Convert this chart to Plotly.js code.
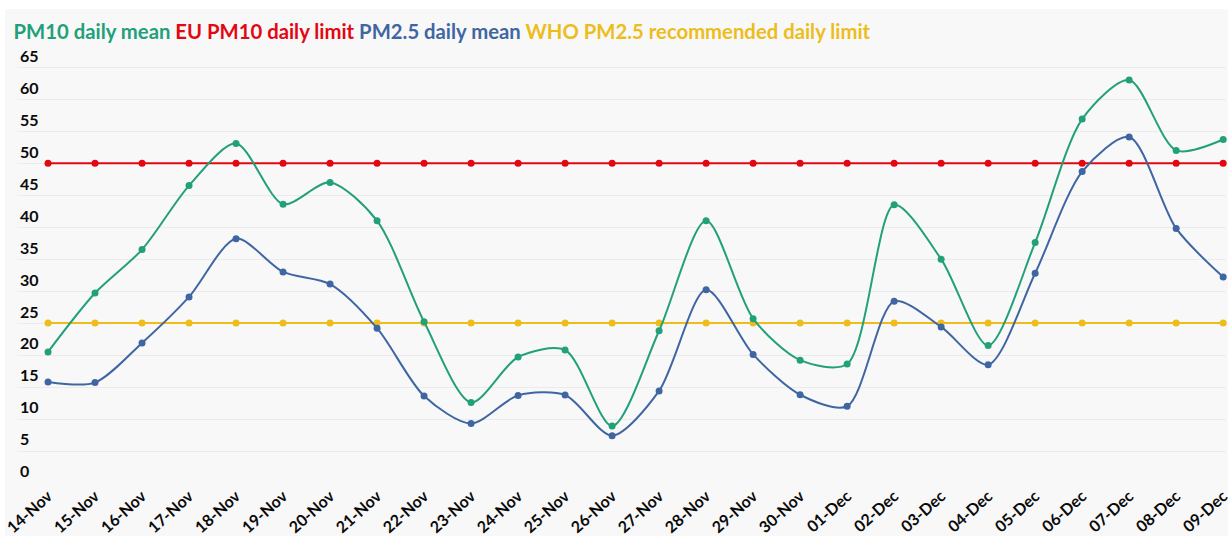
<!DOCTYPE html>
<html>
<head>
<meta charset="utf-8">
<script src="https://cdn.plot.ly/plotly-3.0.1.min.js"></script>
<style>
  html, body { margin: 0; padding: 0; background: #ffffff; }
  #chart { position: absolute; left: 5px; top: 9px; width: 1223px; height: 527px; }
</style>
</head>
<body>
<div id="chart"></div>
<script>
// === Datos ===
const days = ["14-Nov", "15-Nov", "16-Nov", "17-Nov", "18-Nov", "19-Nov", "20-Nov", "21-Nov",
  "22-Nov", "23-Nov", "24-Nov", "25-Nov", "26-Nov", "27-Nov", "28-Nov", "29-Nov", "30-Nov",
  "01-Dec", "02-Dec", "03-Dec", "04-Dec", "05-Dec", "06-Dec", "07-Dec", "08-Dec", "09-Dec"];

const pm10 = [20.5, 29.7, 36.5, 46.5, 53.1, 43.6, 47.0, 41.0, 25.2, 12.6, 19.7, 20.8, 8.9,
  23.8, 41.0, 25.7, 19.2, 18.6, 43.5, 35.0, 21.5, 37.6, 56.9, 63.0, 52.0, 53.7];

const pm25 = [15.8, 15.7, 21.9, 29.1, 38.2, 33.0, 31.1, 24.2, 13.6, 9.3, 13.7, 13.75, 7.4,
  14.4, 30.2, 20.1, 13.8, 12.0, 28.4, 24.4, 18.5, 32.8, 48.7, 54.1, 39.8, 32.2];

const euLimit = days.map(() => 50);
const whoLimit = days.map(() => 25);

const yTicks = [0, 5, 10, 15, 20, 25, 30, 35, 40, 45, 50, 55, 60, 65];

// === Colores ===
const cGreen = "#22a07a";
const cRed = "#e30613";
const cBlue = "#3f66a3";
const cYellow = "#edbd1c";

function serie(y, color, name) {
  return {
    x: days,
    y,
    name,
    mode: "lines+markers",
    line: { color, width: 2, shape: "spline", smoothing: 0.8 },
    marker: { color, size: 7 },
    cliponaxis: false
  };
}

const traces = [
  serie(whoLimit, cYellow, "WHO PM2.5 recommended daily limit"),
  serie(euLimit, cRed, "EU PM10 daily limit"),
  serie(pm25, cBlue, "PM2.5 daily mean"),
  serie(pm10, cGreen, "PM10 daily mean")
];

const title =
  `<span style="color:${cGreen}">PM10 daily mean</span> ` +
  `<span style="color:${cRed}">EU PM10 daily limit</span> ` +
  `<span style="color:${cBlue}">PM2.5 daily mean</span> ` +
  `<span style="color:${cYellow}">WHO PM2.5 recommended daily limit</span>`;

const tickFont = { size: 16, family: "Lato, sans-serif", weight: "bold", color: "#0a0a0a" };

const layout = {
  width: 1223,
  height: 527,
  paper_bgcolor: "#f8f8f8",
  plot_bgcolor: "#f8f8f8",
  showlegend: false,
  font: { family: "Lato, 'Open Sans', sans-serif", color: "#111111" },
  margin: { l: 12, r: 2, t: 41, b: 53 },
  title: {
    text: `<b>${title}</b>`,
    font: { size: 20.3, family: "Lato, sans-serif" },
    xref: "container",
    yref: "container",
    x: 0.007,
    xanchor: "left",
    y: 0.956,
    yanchor: "middle"
  },
  xaxis: {
    type: "category",
    range: [-0.66, 25.06],
    tickangle: -42,
    tickfont: tickFont,
    showgrid: false,
    showline: false,
    ticks: "",
    fixedrange: true
  },
  yaxis: {
    range: [0, 67.7],
    tickvals: yTicks,
    ticktext: yTicks.map(String),
    ticklabelposition: "inside top",
    ticklabeloverflow: "allow",
    tickfont: tickFont,
    gridcolor: "#ebebeb",
    gridwidth: 1,
    zeroline: false,
    showline: false,
    fixedrange: true
  }
};

Plotly.newPlot("chart", traces, layout, { displayModeBar: false, staticPlot: true });
</script>
</body>
</html>
